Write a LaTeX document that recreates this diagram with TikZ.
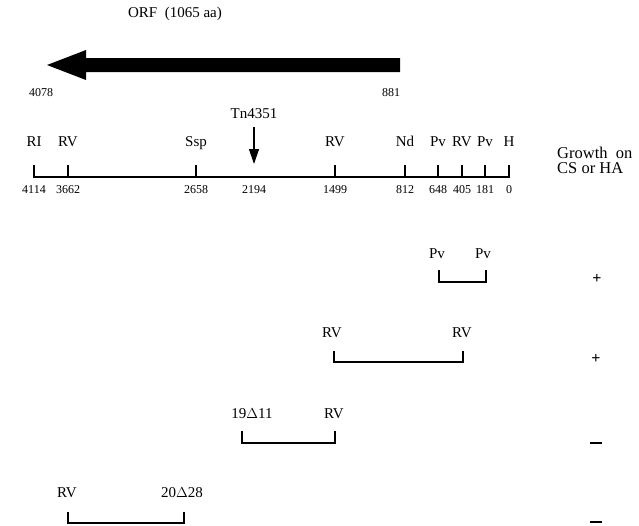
\documentclass[tikz,border=0pt]{standalone}
\usepackage{fontspec}
\setmainfont{Liberation Serif}
\usetikzlibrary{arrows.meta}
\tikzset{
  lbl/.style={inner sep=0pt, anchor=base, font=\fontsize{15}{18}\selectfont},
  num/.style={inner sep=0pt, anchor=base, font=\fontsize{12}{14}\selectfont},
  sgn/.style={inner sep=0pt, font=\fontsize{16}{18}\selectfont\bfseries},
  mapline/.style={line width=1.5pt},
  brk/.style={line width=1.7pt},
  tnarrow/.style={line width=1.3pt, -{Triangle[length=15pt,width=10pt]}},
}
\begin{document}
\begin{tikzpicture}[x=1pt,y=-1pt]
\useasboundingbox (0,0) rectangle (639,525);
% ORF arrow
\node[lbl] (orf) at (175,17) {ORF\ \ (1065 aa)};
\fill (400,58) -- (86,58) -- (86,50) -- (47,65) -- (86,80) -- (86,72) -- (400,72) -- cycle;
\node[num] (n4078) at (41,96) {4078};
\node[num] (n881) at (391,96) {881};
% Tn4351 insertion
\node[lbl] (tn) at (254,118) {Tn4351};
\coordinate (tnA) at (254,127);
\coordinate (tnB) at (254,164);
\draw[tnarrow] (tnA) -- (tnB);
% main map
\foreach \nm/\x/\lab/\n in {ri/34/RI/4114, rva/68/RV/3662, ssp/196/Ssp/2658, rvb/335/RV/1499, nd/405/Nd/812, pva/438/Pv/648, rvc/462/RV/405, pvb/485/Pv/181, h/509/H/0}{
  \coordinate (\nm-t) at (\x,165);
  \coordinate (\nm-b) at (\x,177);
  \node[lbl] (\nm-l) at (\x,146) {\lab};
  \node[num] (\nm-n) at (\x,193) {\n};
}
\node[num] (tn-n) at (254,193) {2194};
\draw[mapline] (ri-t) -- (ri-b) -- (h-b) -- (h-t);
\foreach \nm in {rva,ssp,rvb,nd,pva,rvc,pvb}{\draw[mapline] (\nm-t) -- (\nm-b);}
% growth header
\node[lbl, font=\fontsize{16.5}{18}\selectfont, anchor=base west] (g1) at (557,158) {Growth\ \ on};
\node[lbl, font=\fontsize{16.5}{18}\selectfont, anchor=base west] (g2) at (557,173) {CS or HA};
% fragment 1
\node[lbl] (f1a) at (437,258) {Pv};
\node[lbl] (f1b) at (483,258) {Pv};
\coordinate (f1at) at (439,270); \coordinate (f1ab) at (439,282);
\coordinate (f1bt) at (486,270); \coordinate (f1bb) at (486,282);
\draw[brk] (f1at) -- (f1ab) -- (f1bb) -- (f1bt);
\node[sgn] (s1) at (597,279) {+};
% fragment 2
\node[lbl] (f2a) at (332,337) {RV};
\node[lbl] (f2b) at (462,337) {RV};
\coordinate (f2at) at (334,351); \coordinate (f2ab) at (334,362);
\coordinate (f2bt) at (463,351); \coordinate (f2bb) at (463,362);
\draw[brk] (f2at) -- (f2ab) -- (f2bb) -- (f2bt);
\node[sgn] (s2) at (596,359) {+};
% fragment 3
\node[lbl] (f3a) at (252,418) {19$\Delta$11};
\node[lbl] (f3b) at (334,418) {RV};
\coordinate (f3at) at (242,431); \coordinate (f3ab) at (242,443);
\coordinate (f3bt) at (335,431); \coordinate (f3bb) at (335,443);
\draw[brk] (f3at) -- (f3ab) -- (f3bb) -- (f3bt);
\coordinate (m1a) at (590,443); \coordinate (m1b) at (602,443);
\draw[line width=1.8pt] (m1a) -- (m1b);
% fragment 4
\node[lbl] (f4a) at (67,497) {RV};
\node[lbl] (f4b) at (182,497) {20$\Delta$28};
\coordinate (f4at) at (68,512); \coordinate (f4ab) at (68,523);
\coordinate (f4bt) at (184,512); \coordinate (f4bb) at (184,523);
\draw[brk] (f4at) -- (f4ab) -- (f4bb) -- (f4bt);
\coordinate (m2a) at (590,522); \coordinate (m2b) at (602,522);
\draw[line width=1.8pt] (m2a) -- (m2b);
\end{tikzpicture}
\end{document}
